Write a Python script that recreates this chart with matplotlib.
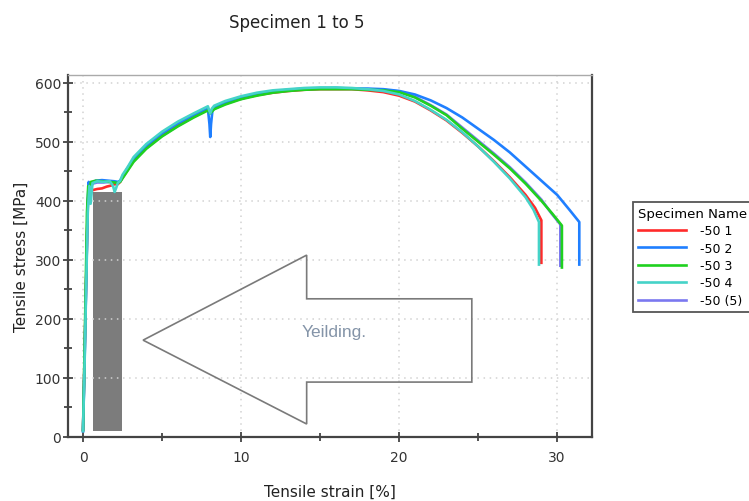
import numpy as np
from matplotlib import pyplot as plt
from matplotlib.patches import Rectangle, Polygon

# tensile test curves, strain [%] vs stress [MPa]
strain_1 = [0, 0.1, 0.2, 0.3, 0.38, 0.45, 0.6, 0.9, 1.2, 1.5, 1.8, 2.0, 2.2, 2.35, 2.5, 2.8, 3.2, 4, 5, 6, 7,
            7.9, 8.05, 8.15, 8.3, 9, 10, 11, 12, 13, 14, 15, 16, 17, 18, 19, 20, 21, 22, 23, 24, 25, 26, 27,
            28, 28.6, 29.0, 29.0]
stress_1 = [12, 140, 270, 395, 420, 412, 418, 420, 421, 424, 426, 428, 428, 432, 440, 452, 469, 491, 512, 529, 543,
            555, 550, 553, 557, 565, 573, 579, 583, 586, 588, 589, 589, 589, 587, 584, 578, 568, 553, 536, 515,
            492, 467, 440, 410, 388, 367, 295]

strain_2 = [0, 0.1, 0.2, 0.3, 0.36, 0.42, 0.47, 0.55, 0.8, 1.2, 1.6, 2.0, 2.2, 2.35, 2.5, 2.8, 3.2, 4, 5, 6, 7,
            7.9, 8.0, 8.05, 8.1, 8.2, 8.3, 9, 10, 11, 12, 13, 14, 15, 16, 17, 18, 19, 20, 21, 22, 23, 24, 25,
            26, 27, 28, 29, 30, 30.8, 31.4, 31.4]
stress_2 = [10, 130, 265, 400, 432, 415, 403, 428, 434, 435, 434, 433, 432, 434, 441, 455, 470, 493, 514, 531, 545,
            556, 530, 508, 530, 556, 558, 566, 575, 581, 585, 588, 590, 590, 591, 590, 590, 589, 586, 580, 570,
            557, 541, 522, 503, 482, 458, 434, 410, 384, 364, 292]

strain_3 = [0, 0.1, 0.2, 0.25, 0.33, 0.4, 0.5, 0.8, 1.2, 1.6, 2.0, 2.2, 2.35, 2.5, 2.8, 3.2, 4, 5, 6, 7,
            7.9, 8.05, 8.15, 8.3, 9, 10, 11, 12, 13, 14, 15, 16, 17, 18, 19, 20, 21, 22, 23, 24, 25, 26, 27,
            28, 29, 29.7, 30.3, 30.3]
stress_3 = [12, 150, 300, 380, 425, 420, 432, 434, 433, 432, 431, 430, 432, 438, 450, 466, 488, 509, 526, 541,
            553, 548, 551, 555, 563, 572, 578, 583, 586, 588, 589, 589, 589, 588, 587, 584, 575, 561, 545, 522,
            500, 478, 455, 429, 400, 378, 358, 287]

strain_4 = [0, 0.1, 0.2, 0.3, 0.4, 0.48, 0.6, 0.9, 1.3, 1.7, 1.9, 2.0, 2.1, 2.2, 2.35, 2.5, 2.8, 3.2, 4, 5, 6, 7,
            7.9, 8.05, 8.15, 8.3, 9, 10, 11, 12, 13, 14, 15, 16, 17, 18, 19, 20, 21, 22, 23, 24, 25, 26, 27,
            28, 28.5, 28.85, 28.85]
stress_4 = [10, 125, 255, 380, 425, 395, 430, 433, 432, 433, 425, 415, 422, 430, 434, 444, 456, 474, 496, 517,
            534, 548, 560, 548, 556, 561, 569, 577, 583, 587, 589, 591, 592, 592, 591, 589, 586, 580, 569, 554,
            537, 516, 492, 466, 438, 406, 385, 364, 292]

strain_5 = [0, 0.1, 0.2, 0.3, 0.38, 0.45, 0.6, 0.9, 1.3, 1.7, 2.0, 2.2, 2.35, 2.5, 2.8, 3.2, 4, 5, 6, 7,
            7.9, 8.05, 8.15, 8.3, 9, 10, 11, 12, 13, 14, 15, 16, 17, 18, 19, 20, 21, 22, 23, 24, 25, 26, 27,
            28, 29, 29.6, 30.2, 30.2]
stress_5 = [10, 135, 265, 392, 428, 418, 429, 431, 431, 432, 431, 430, 433, 439, 451, 467, 489, 510, 527, 542,
            554, 549, 552, 556, 564, 573, 579, 584, 587, 589, 590, 590, 590, 589, 588, 585, 576, 562, 546, 524,
            502, 480, 457, 431, 402, 380, 360, 290]

names = ["-50 1", "-50 2", "-50 3", "-50 4", "-50 (5)"]
colors = ["#ff2a2a", "#1f7fff", "#1fd11f", "#45d3c8", "#7b78f0"]
curves = [(strain_1, stress_1), (strain_2, stress_2), (strain_3, stress_3),
          (strain_4, stress_4), (strain_5, stress_5)]

fig = plt.figure(figsize=(7.49, 5.02), dpi=100)
ax = fig.add_axes([0.0908, 0.1275, 0.6995, 0.7211])

# shaded yield band and the callout arrow
ax.add_patch(Rectangle((0.6, 10), 1.84, 405, facecolor="#7c7c7c", edgecolor="none", zorder=1))
arrow_pts = [(3.8, 164), (14.15, 308), (14.15, 234), (24.6, 234), (24.6, 93), (14.15, 93), (14.15, 22)]
ax.add_patch(Polygon(arrow_pts, closed=True, fill=False, edgecolor="#7a7a7a", linewidth=1.2, zorder=1.6))
ax.text(15.9, 178, "Yeilding.", color="#8494a8", fontsize=12.5, ha="center", va="center",
        family=["Liberation Sans Narrow", "Liberation Sans", "DejaVu Sans"])

# draw order: 5 underneath, 4 on top
for rank, i in enumerate([4, 0, 1, 2, 3]):
    x, y = curves[i]
    ax.plot(x, y, color=colors[i], linewidth=1.9, label=names[i], zorder=2 + rank * 0.01)

ax.set_xlim(-0.95, 32.2)
ax.set_ylim(0, 613)
ax.set_xticks([0, 10, 20, 30])
ax.set_xticks([5, 15, 25], minor=True)
ax.set_yticks([0, 100, 200, 300, 400, 500, 600])
ax.set_yticks([50, 150, 250, 350, 450, 550], minor=True)
ax.tick_params(which="major", direction="inout", length=7, width=1.2, colors="#333333", labelsize=10,
               labelcolor="#333333")
ax.tick_params(which="minor", direction="inout", length=6, width=1.2, colors="#333333")
ax.tick_params(axis="x", pad=6)
ax.tick_params(axis="y", pad=1.5)
ax.grid(True, which="major", linestyle=(0, (1, 3)), color="#d2d2d2", linewidth=1.1)

for side in ["left", "bottom", "right"]:
    ax.spines[side].set_color("#444444")
    ax.spines[side].set_linewidth(1.6)
ax.spines["top"].set_color("#aaaaaa")
ax.spines["top"].set_linewidth(1.0)

ax.set_xlabel("Tensile strain [%]", fontsize=11, color="#222222", labelpad=14)
ax.set_ylabel("Tensile stress [MPa]", fontsize=11, color="#222222", labelpad=4)
fig.text(0.396, 0.955, "Specimen 1 to 5", fontsize=12, ha="center", va="center", color="#222222")

handles, labels = ax.get_legend_handles_labels()
order = [labels.index(n) for n in names]
leg = fig.legend([handles[k] for k in order], names, loc="upper left",
                 bbox_to_anchor=(633 / 749, 1 - 203 / 502), fontsize=9, title="Specimen Name",
                 title_fontsize=9.5, handlelength=3.8, handletextpad=1.2, labelspacing=0.35,
                 fancybox=False, framealpha=1, edgecolor="#555555", borderaxespad=0, borderpad=0.4)
leg._legend_box.align = "left"
leg.get_frame().set_linewidth(1.3)

fig.savefig("out.png", dpi=100)
